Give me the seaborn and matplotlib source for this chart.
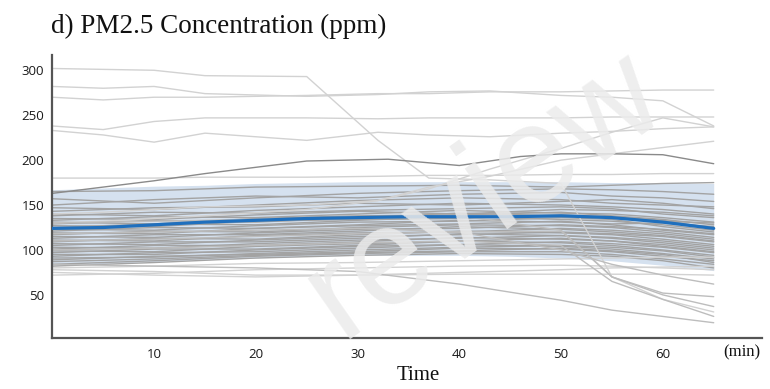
import numpy as np
import pandas as pd
import matplotlib
matplotlib.use("Agg")
import matplotlib.pyplot as plt
import seaborn as sns

# ---------------- data ----------------
grid_times = [0, 10, 20, 30, 40, 50, 55, 60, 65]

bundle_lines = [
    [165, 166, 170, 171, 172, 170, 172, 174, 175],
    [157, 152, 158, 163, 166, 168, 167, 165, 162],
    [150, 156, 160, 158, 162, 164, 160, 158, 154],
    [147, 145, 150, 155, 158, 156, 152, 150, 148],
    [143, 147, 148, 152, 150, 154, 156, 152, 146],
    [140, 138, 144, 148, 152, 150, 148, 145, 140],
    [138, 142, 141, 144, 146, 148, 146, 140, 136],
    [135, 134, 139, 143, 140, 145, 144, 142, 138],
    [133, 137, 136, 140, 144, 141, 140, 136, 131],
    [131, 129, 135, 138, 139, 142, 138, 134, 128],
    [129, 133, 131, 136, 141, 138, 136, 132, 130],
    [127, 126, 132, 134, 135, 139, 137, 133, 124],
    [125, 129, 128, 133, 137, 134, 132, 128, 122],
    [123, 122, 127, 131, 132, 136, 134, 126, 120],
    [121, 125, 124, 128, 133, 131, 129, 130, 126],
    [119, 118, 124, 127, 129, 132, 128, 122, 117],
    [117, 121, 120, 125, 128, 127, 125, 120, 114],
    [115, 114, 119, 123, 124, 128, 126, 123, 118],
    [113, 117, 117, 121, 126, 123, 120, 116, 110],
    [111, 110, 116, 119, 120, 124, 122, 118, 112],
    [109, 113, 112, 117, 121, 119, 117, 112, 106],
    [107, 106, 111, 115, 117, 120, 118, 115, 109],
    [105, 109, 109, 113, 118, 116, 113, 108, 102],
    [103, 102, 107, 111, 113, 116, 114, 110, 104],
    [101, 105, 105, 109, 114, 112, 110, 104, 98],
    [99, 98, 104, 107, 110, 113, 110, 106, 100],
    [97, 101, 101, 105, 110, 108, 105, 100, 94],
    [95, 95, 100, 104, 106, 109, 107, 103, 97],
    [93, 97, 98, 102, 106, 104, 101, 96, 90],
    [91, 92, 96, 100, 103, 105, 103, 99, 92],
    [89, 93, 95, 98, 102, 101, 98, 93, 88],
    [87, 90, 94, 97, 99, 102, 99, 95, 86],
    [84, 88, 93, 96, 98, 98, 95, 90, 84],
    [82, 86, 91, 94, 96, 95, 93, 88, 80],
]

low_lines = [
    [78, 76, 72, 72, 73, 73, 73, 73, 72],
    [75, 72, 70, 72, 75, 78, 80, 81, 82],
    [80, 82, 85, 86, 88, 90, 91, 92, 92],
    [72, 74, 78, 80, 82, 83, 82, 80, 78],
]

tail_lines = [
    [118, 120, 122, 124, 120, 100, 84, 72, 62],
    [110, 112, 115, 118, 120, 121, 70, 52, 48],
    [130, 132, 134, 136, 138, 122, 70, 50, 37],
    [100, 102, 105, 108, 110, 105, 65, 45, 26],
    [84, 82, 80, 76, 62, 44, 33, 26, 19],
]

outer_times = [0, 5, 10, 15, 25, 32, 37, 43, 50, 55, 60, 65]
outer_lines = [
    [302, 301, 300, 294, 293, 222, 180, 178, 174, 70, 45, 31],
    [282, 280, 282, 274, 271, 273, 276, 277, 272, 270, 266, 238],
    [270, 267, 270, 270, 272, 274, 274, 276, 276, 277, 278, 278],
    [238, 234, 243, 247, 247, 246, 247, 247, 247, 248, 248, 248],
    [233, 228, 220, 230, 222, 231, 228, 226, 230, 232, 235, 237],
    [180, 180, 180, 181, 181, 182, 183, 183, 184, 184, 185, 185],
    [140, 142, 145, 148, 150, 155, 168, 190, 213, 231, 247, 237],
    [130, 132, 135, 138, 145, 155, 170, 182, 200, 207, 214, 221],
]
dark_times = [0, 5, 10, 15, 25, 33, 40, 46, 50, 55, 60, 65]
dark_line = [163, 170, 177, 185, 199, 201, 194, 204, 207, 207, 206, 196]

mean_times = [0, 5, 10, 15, 20, 25, 30, 35, 40, 45, 50, 55, 60, 65]
mean_vals = [124, 125, 128, 131, 133, 135, 136, 137, 137, 137, 138, 136, 131, 124]
band_hi = [167, 169, 171, 172, 174, 175, 176, 176, 176, 176, 176, 175, 175, 174]
band_lo = [83, 85, 87, 89, 91, 93, 94, 94, 94, 93, 91, 88, 83, 77]

x_ticks = [10, 20, 30, 40, 50, 60]
y_ticks = [50, 100, 150, 200, 250, 300]

# ---------------- long table ----------------
rows = []
lid = 0
def add(times, vals, shade):
    global lid
    for t, v in zip(times, vals):
        rows.append({"line": lid, "time": t, "value": v, "shade": shade})
    lid += 1

for v in bundle_lines:
    add(grid_times, v, "mid")
for v in low_lines:
    add(grid_times, v, "light")
for v in tail_lines:
    add(grid_times, v, "tail")
for v in outer_lines:
    add(outer_times, v, "light")
add(dark_times, dark_line, "dark")
df = pd.DataFrame(rows)

# ---------------- figure ----------------
sns.set_theme(style="white")
fig = plt.figure(figsize=(7.7, 3.89), dpi=100)
ax = fig.add_axes([0.068, 0.1311, 0.921, 0.7275])

ax.fill_between(mean_times, band_lo, band_hi, color="#d5e1ef", lw=0, zorder=1)

palette = {"mid": "#a3a3a3", "light": "#d2d2d2", "tail": "#bdbdbd", "dark": "#8a8a8a"}
sns.lineplot(data=df, x="time", y="value", units="line", estimator=None,
             hue="shade", palette=palette, linewidth=1.0, legend=False,
             sort=False, ax=ax, zorder=2)

sns.lineplot(x=mean_times, y=mean_vals, color="#1f6fbd", linewidth=2.3, ax=ax, zorder=4)

ax.set_xlim(0, 69.7)
ax.set_ylim(2, 317)
ax.set_xticks(x_ticks)
ax.set_yticks(y_ticks)
for s in ["top", "right"]:
    ax.spines[s].set_visible(False)
for s in ["left", "bottom"]:
    ax.spines[s].set_color("#555555")
    ax.spines[s].set_linewidth(1.6)
ax.tick_params(axis="both", which="both", direction="out", length=3, width=1.1,
               color="#555555", labelcolor="#1a1a1a", pad=3)
for lab in ax.get_xticklabels() + ax.get_yticklabels():
    lab.set_fontfamily("Open Sans")
    lab.set_fontsize(9.5)
ax.tick_params(axis="x", pad=4)

ax.set_xlabel("")
ax.set_ylabel("")
fig.text(418 / 770, 1 - 376 / 389, "Time", ha="center", va="center",
         family="Liberation Serif", fontsize=15, color="#111111")
fig.text(742 / 770, 1 - 352 / 389, "(min)", ha="center", va="center",
         family="Liberation Serif", fontsize=12, color="#111111")
fig.text(51 / 770, 1 - 33 / 389, "d) PM2.5 Concentration (ppm)", ha="left",
         va="baseline", family="Liberation Serif", fontsize=19.5, color="#111111")

# watermark
fig.text(0.63, 0.5, "review", ha="center", va="center", rotation=35,
         family="Liberation Sans", fontsize=100, color="#ebebeb", alpha=0.85, zorder=10)

fig.savefig("out.png", dpi=100)
